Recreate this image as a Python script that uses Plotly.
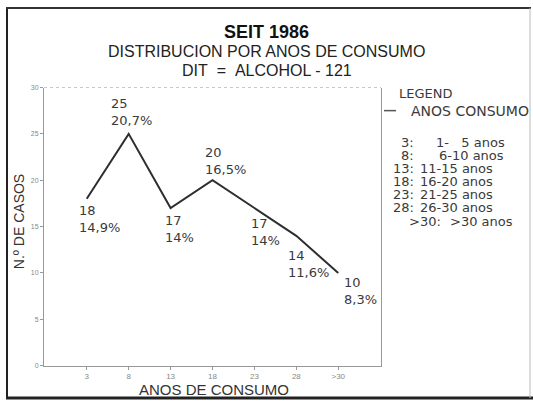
import plotly.graph_objects as go

# ---- data ----
x_pos = [3, 8, 13, 18, 23, 28, 33]
x_labels = ["3", "8", "13", "18", "23", "28", ">30"]
casos = [18, 25, 17, 20, 17, 14, 10]
pct = ["14,9%", "20,7%", "14%", "16,5%", "14%", "11,6%", "8,3%"]
y_ticks = [0, 5, 10, 15, 20, 25, 30]
legend_keys = ["3", "8", "13", "18", "23", "28", ">30"]
legend_ranges = ["1-\u00a0\u00a0\u00a05 anos", "6-10 anos", "11-15 anos", "16-20 anos",
                 "21-25 anos", "26-30 anos", ">30 anos"]

W, H = 533, 405
def px(x):
    return x / W
def py(y):
    return 1 - y / H

FONT = "Liberation Sans, Arial, sans-serif"
LFONT = "DejaVu Sans, sans-serif"
TXT = "#3a3a3a"

fig = go.Figure()
fig.add_trace(go.Scatter(x=x_pos, y=casos, mode="lines",
                         line=dict(color="#2e2e2e", width=2), showlegend=False,
                         hoverinfo="skip"))

# data labels (offsets in px relative to each point)
offs = [(-10, -2, "top"), (-20, 4, "bottom"), (-8, -3, "top"), (-10, 1, "bottom"),
        (-5, -6, "top"), (-10, -10, "top"), (4, 0, "top")]
for xv, yv, p, (dx, dy, ya) in zip(x_pos, casos, pct, offs):
    fig.add_annotation(x=xv, y=yv, xref="x", yref="y", text=f"{yv}<br>{p}",
                       showarrow=False, xanchor="left", yanchor=ya, align="left",
                       xshift=dx, yshift=dy,
                       font=dict(family=LFONT, size=13, color=TXT))

# titles
fig.add_annotation(x=0.5, y=py(29), xref="paper", yref="paper", text="<b>SEIT 1986</b>",
                   showarrow=False, xanchor="center", yanchor="middle",
                   font=dict(family=FONT, size=18, color="#111"))
fig.add_annotation(x=0.5, y=py(48), xref="paper", yref="paper",
                   text="DISTRIBUCION POR ANOS DE CONSUMO",
                   showarrow=False, xanchor="center", yanchor="middle",
                   font=dict(family=FONT, size=16, color="#222"))
fig.add_annotation(x=0.5, y=py(68), xref="paper", yref="paper",
                   text="DIT\u00a0\u00a0=\u00a0\u00a0ALCOHOL - 121",
                   showarrow=False, xanchor="center", yanchor="middle",
                   font=dict(family=FONT, size=16, color="#222"))

# axis titles
fig.add_annotation(x=px(214), y=py(392), xref="paper", yref="paper", text="ANOS DE CONSUMO",
                   showarrow=False, xanchor="center", yanchor="middle",
                   font=dict(family=FONT, size=15, color="#333"))
fig.add_annotation(x=px(19), y=py(222), xref="paper", yref="paper", text="N.º DE CASOS",
                   showarrow=False, xanchor="center", yanchor="middle", textangle=-90,
                   font=dict(family=FONT, size=14, color="#333"))

# legend area
fig.add_annotation(x=px(397), y=py(91), xref="paper", yref="paper", text="LEGEND",
                   showarrow=False, xanchor="left", yanchor="middle",
                   font=dict(family=LFONT, size=13, color=TXT))
fig.add_annotation(x=px(409), y=py(109), xref="paper", yref="paper", text="ANOS CONSUMO",
                   showarrow=False, xanchor="left", yanchor="middle",
                   font=dict(family=LFONT, size=14, color=TXT))
rows_y = [141, 154, 167.5, 181, 194, 207.5, 221]
key_shift = [0, 0, 0, 0, 0, 0, 27]
val_shift = [16, 19, 0, 0, 0, 0, 30]
for k, r, yy, ks, vs in zip(legend_keys, legend_ranges, rows_y, key_shift, val_shift):
    fig.add_annotation(x=px(416), y=py(yy), xref="paper", yref="paper", text=f"{k}:",
                       showarrow=False, xanchor="right", yanchor="middle", xshift=ks,
                       font=dict(family=LFONT, size=13, color=TXT))
    fig.add_annotation(x=px(418), y=py(yy), xref="paper", yref="paper", text=r,
                       showarrow=False, xanchor="left", yanchor="middle", xshift=vs,
                       font=dict(family=LFONT, size=13, color=TXT))

# frame & plot box
shapes = [
    dict(type="line", xref="paper", yref="paper", x0=px(7), x1=px(7), y0=py(3), y1=py(401),
         line=dict(color="#222", width=2)),
    dict(type="line", xref="paper", yref="paper", x0=px(6), x1=px(531), y0=py(4), y1=py(4),
         line=dict(color="#333", width=2)),
    dict(type="line", xref="paper", yref="paper", x0=px(6), x1=px(533), y0=py(401), y1=py(401),
         line=dict(color="#222", width=3)),
    dict(type="line", xref="paper", yref="paper", x0=px(530), x1=px(530), y0=py(4), y1=py(401),
         line=dict(color="#bbb", width=1)),
    dict(type="line", xref="paper", yref="paper", x0=px(44), x1=px(381), y0=py(85), y1=py(85),
         line=dict(color="#c8c8c8", width=1, dash="dot")),
    # legend line symbol
    dict(type="line", xref="paper", yref="paper", x0=px(384), x1=px(396), y0=py(108.5), y1=py(108.5),
         line=dict(color="#555", width=1.5)),
]

fig.update_layout(
    width=W, height=H, margin=dict(l=0, r=0, t=0, b=0),
    paper_bgcolor="white", plot_bgcolor="white",
    shapes=shapes,
    xaxis=dict(domain=[px(44), px(381)], range=[-2.1, 38.1], tickvals=x_pos,
               ticktext=x_labels, showgrid=False, zeroline=False, showline=True,
               linecolor="#999", linewidth=1, ticks="outside", ticklen=3,
               tickcolor="#999", tickfont=dict(family=FONT, size=8, color="#888")),
    yaxis=dict(domain=[1 - 368 / H, 1 - 85 / H], range=[0, 30], tickvals=y_ticks,
               showgrid=False, zeroline=False, showline=True, mirror=True,
               linecolor="#999", linewidth=1, ticks="outside", ticklen=3,
               tickcolor="#999", tickfont=dict(family=FONT, size=7, color="#888")),
)

fig.write_html("out.html", config={"displayModeBar": False},
               post_script="document.body.style.margin='0';")
